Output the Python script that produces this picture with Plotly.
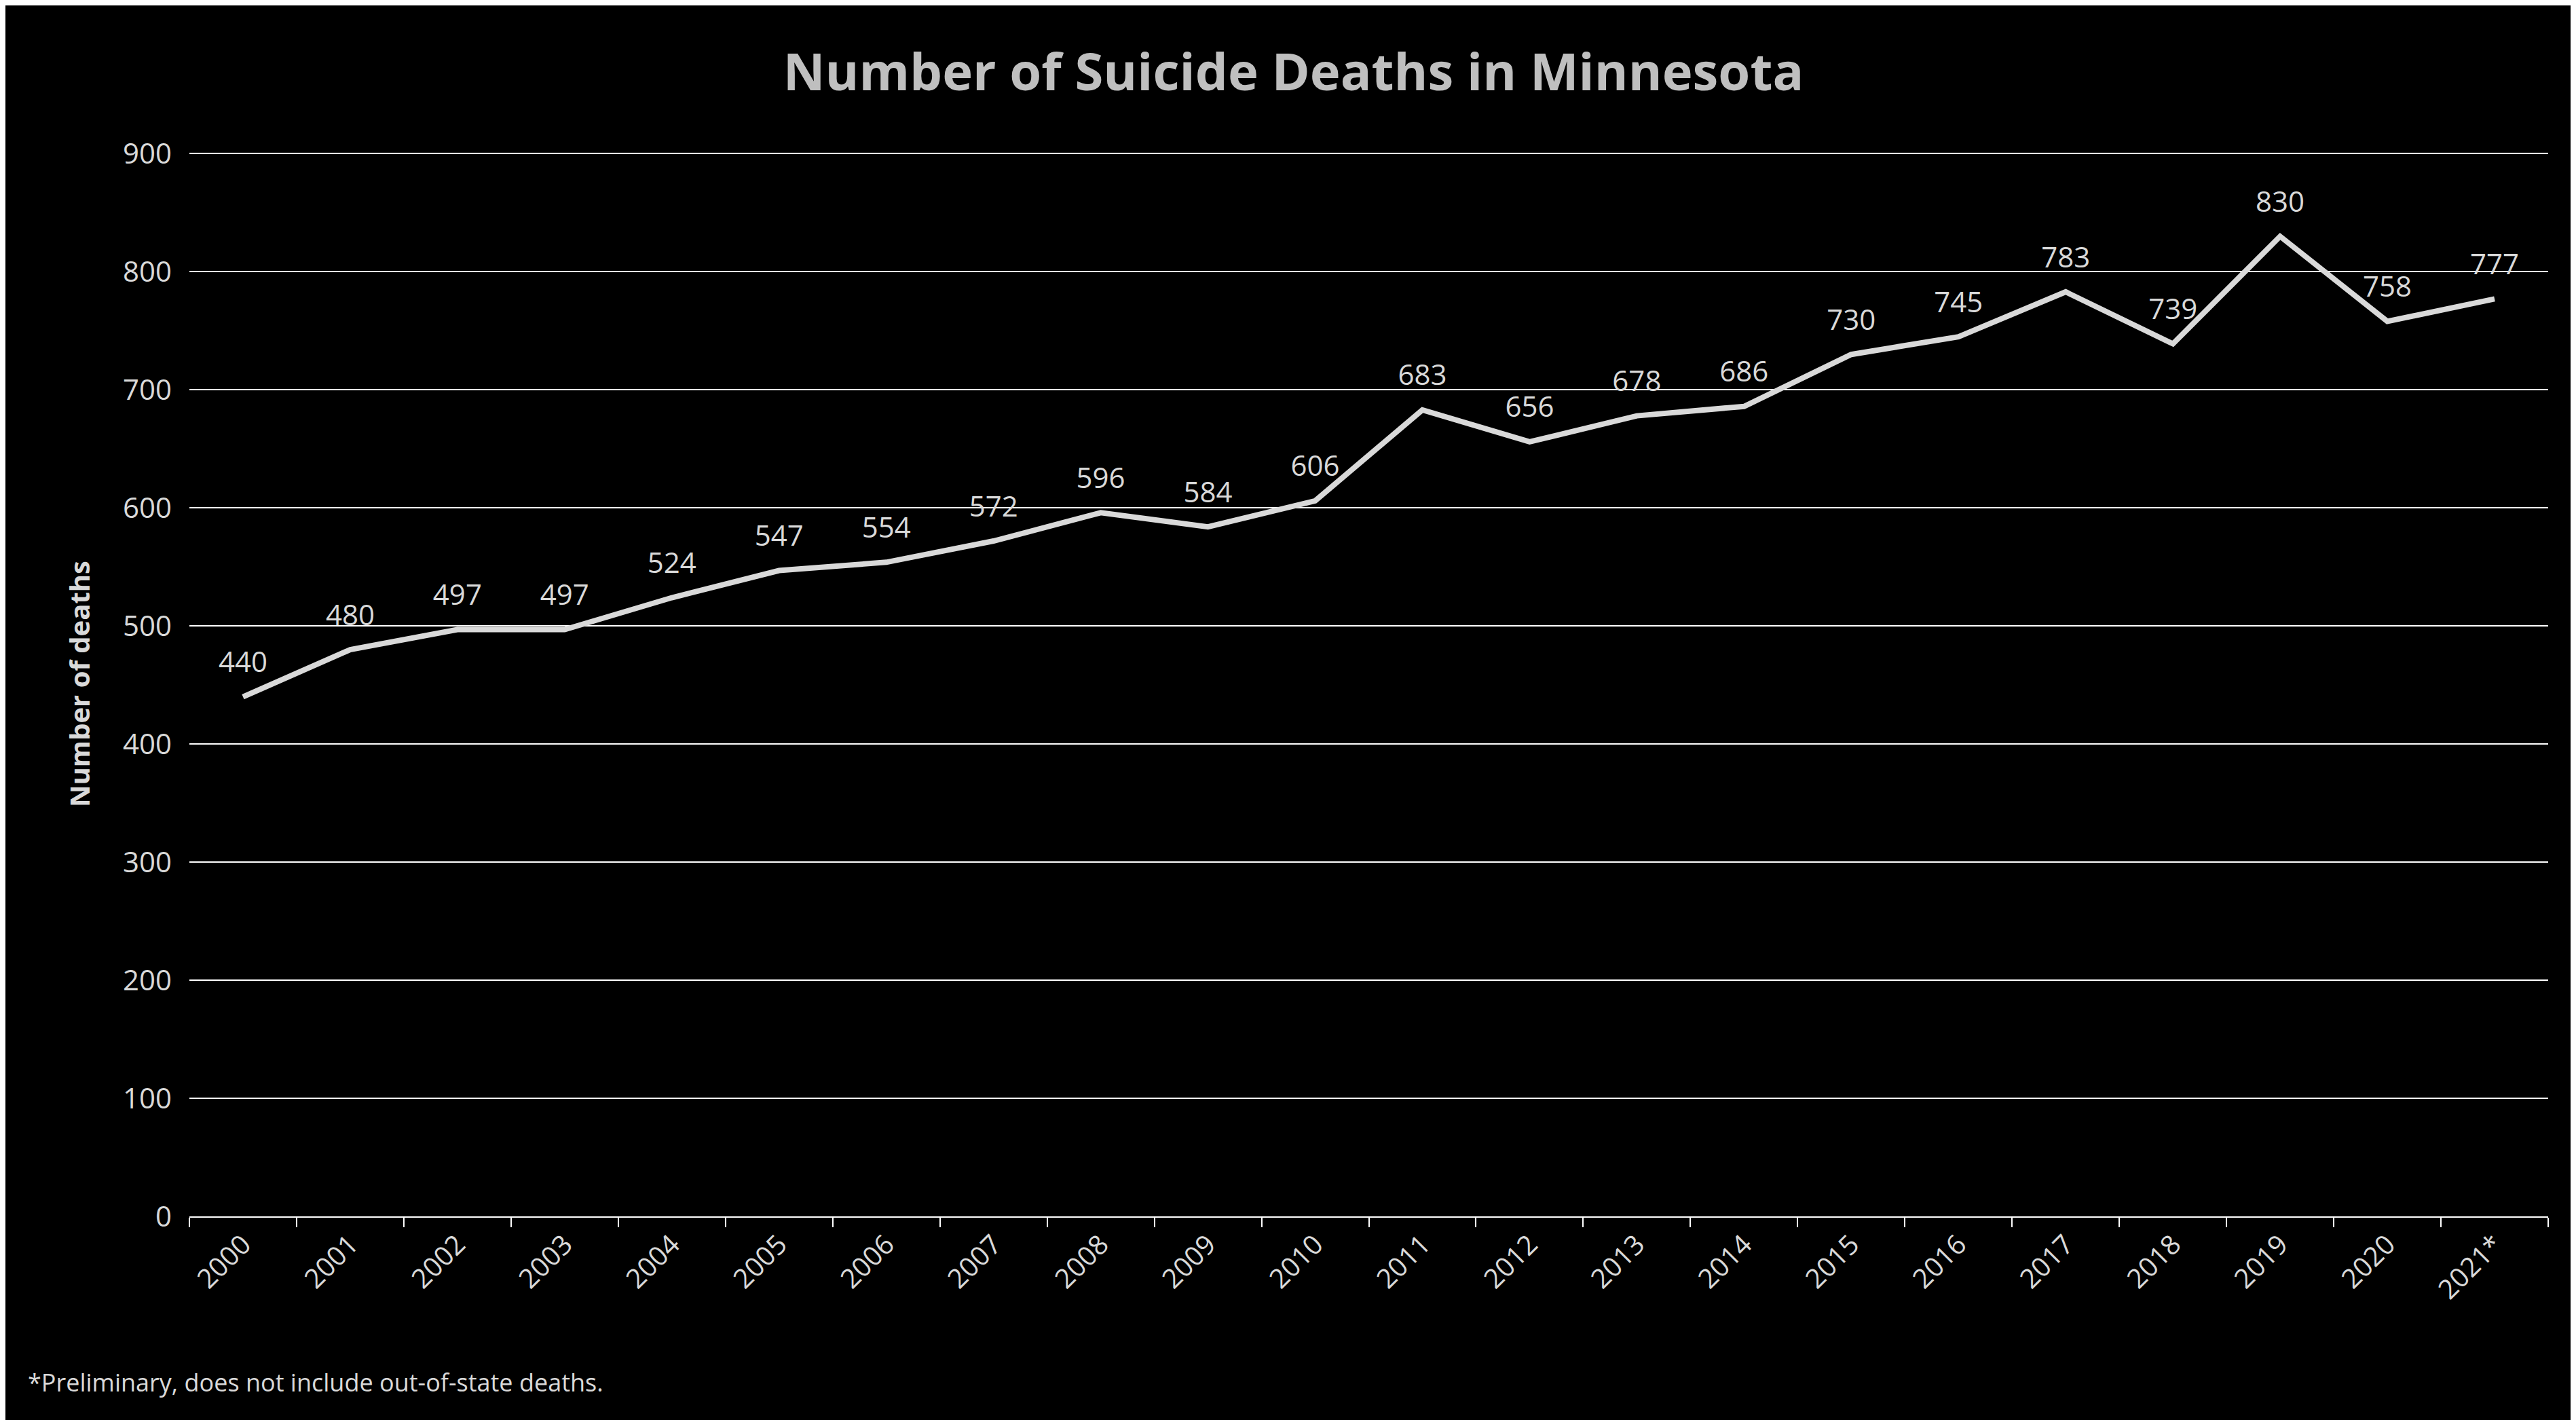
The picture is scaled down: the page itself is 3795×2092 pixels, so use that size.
import plotly.graph_objects as go

years = ["2000","2001","2002","2003","2004","2005","2006","2007","2008","2009","2010",
         "2011","2012","2013","2014","2015","2016","2017","2018","2019","2020","2021*"]
deaths = [440,480,497,497,524,547,554,572,596,584,606,683,656,678,686,730,745,783,739,830,758,777]

fnt = "Open Sans, Liberation Sans, sans-serif"
fig = go.Figure(go.Scatter(
    x=years, y=deaths, mode="lines+markers+text", text=[str(v) for v in deaths],
    textposition="top center", textfont=dict(size=42, color="#d9d9d9", family=fnt),
    marker=dict(size=40, color="rgba(0,0,0,0)"),
    line=dict(color="#d9d9d9", width=8), cliponaxis=False))
fig.update_layout(
    width=3795, height=2092, paper_bgcolor="black", plot_bgcolor="black",
    margin=dict(l=271, r=49, t=215, b=308), showlegend=False,
    title=dict(text="<b>Number of Suicide Deaths in Minnesota</b>", x=0.5, xanchor="center",
               y=0.953, yanchor="middle", font=dict(size=76, color="#bfbfbf", family=fnt)),
    font=dict(family=fnt, color="#d9d9d9"),
    annotations=[dict(text="*Preliminary, does not include out-of-state deaths.", xref="paper", yref="paper",
                      x=-0.069, y=-0.156, xanchor="left", yanchor="middle", showarrow=False,
                      font=dict(size=36, color="#d9d9d9", family=fnt))])
fig.update_xaxes(type="category", range=[-0.5, 21.5], tickangle=-45, ticks="outside",
                 tickson="boundaries", ticklen=14, tickwidth=2, tickcolor="white",
                 showline=True, linecolor="white", linewidth=2, showgrid=False,
                 tickfont=dict(size=40, color="#d9d9d9"))
fig.update_yaxes(range=[0, 902], tickvals=[0,100,200,300,400,500,600,700,800,900],
                 showgrid=True, gridcolor="white", gridwidth=2,
                 zeroline=False, tickfont=dict(size=42, color="#d9d9d9"), ticklabelstandoff=25,
                 title=dict(text="<b>Number of deaths</b>", font=dict(size=40, color="#d9d9d9"), standoff=35))
fig.write_html("out.html")
